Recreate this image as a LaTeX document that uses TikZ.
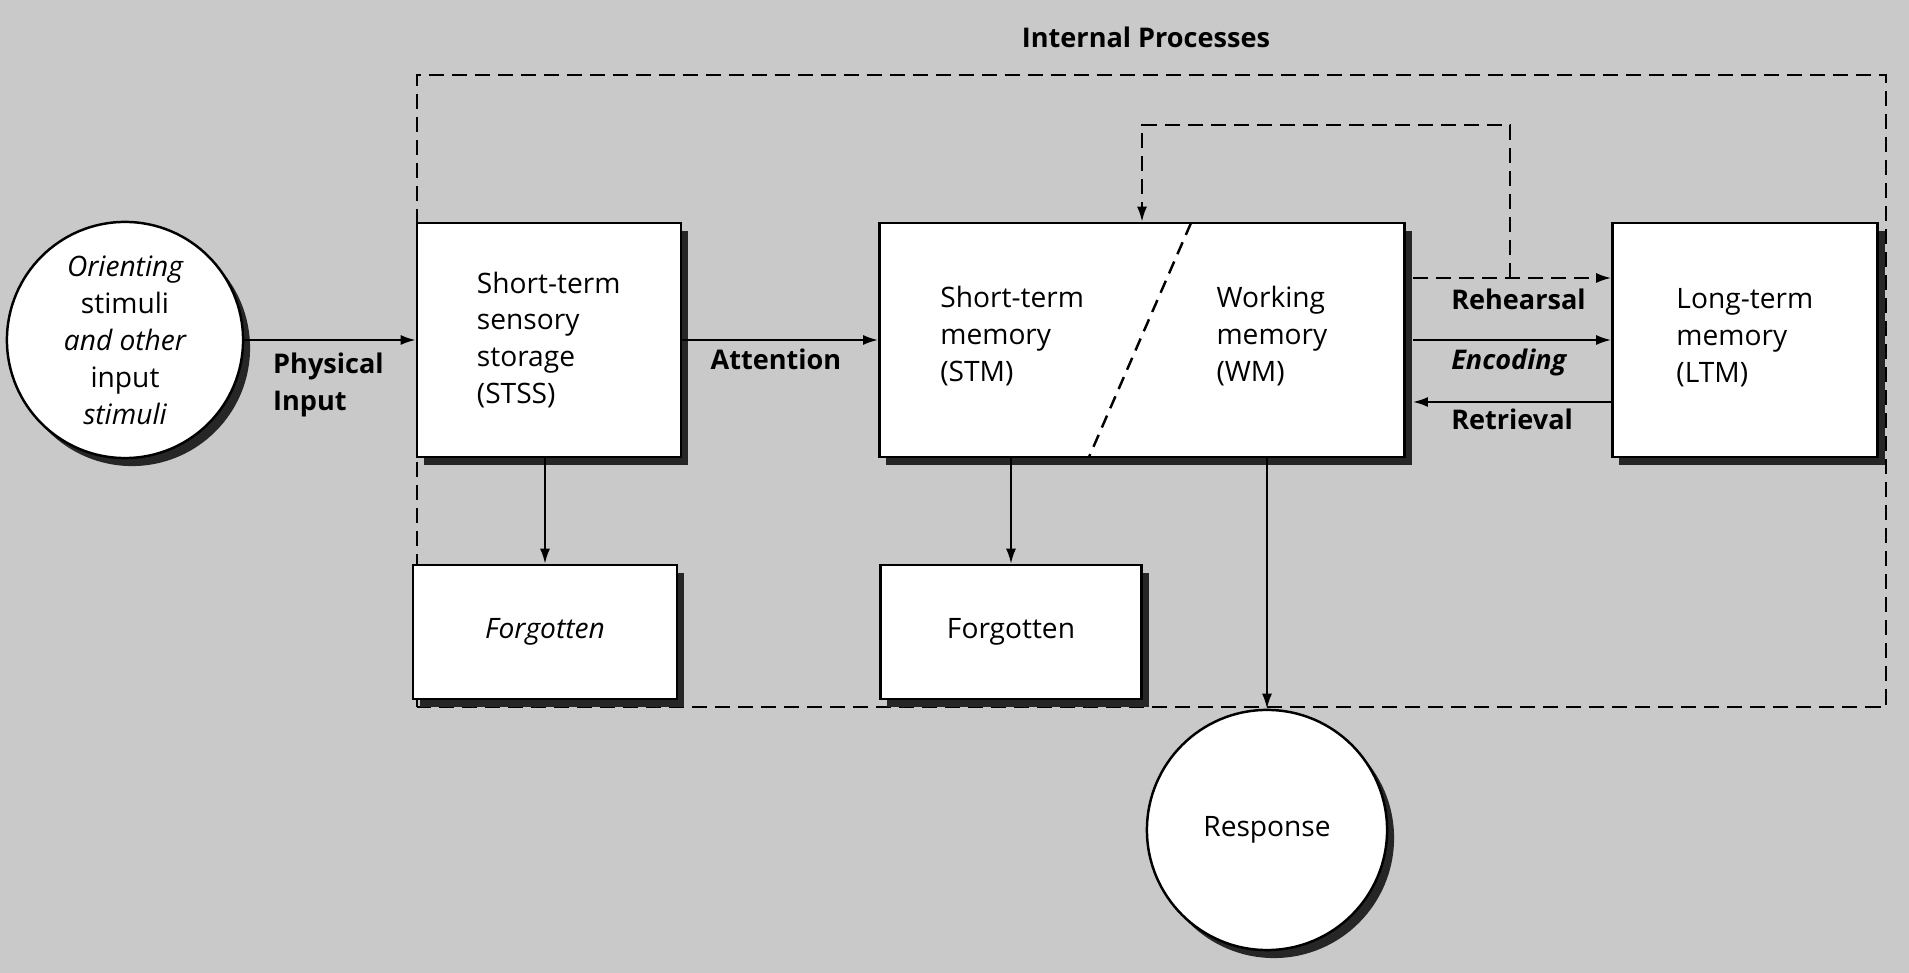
\documentclass[tikz,border=0pt]{standalone}
\usepackage{fontspec}
\setmainfont{Open Sans}
\usetikzlibrary{positioning,shadows,arrows.meta}

\begin{document}
\begin{tikzpicture}[x=0.01cm,y=0.01cm,line width=0.7pt,
	font=\fontsize{8}{10.5}\selectfont,
	dropsh/.style={drop shadow={shadow xshift=0.07cm,shadow yshift=-0.08cm,fill=black!85,opacity=1}},
	box/.style={draw,fill=white,dropsh,minimum height=2.34cm},
	roundbox/.style={circle,draw,fill=white,dropsh,inner sep=0pt,align=center},
	txt/.style={inner sep=0pt,align=left},
	lbl/.style={inner sep=0pt,font=\fontsize{7.7}{10.5}\selectfont\bfseries},
	flow/.style={-{Latex[length=0.15cm,width=0.1cm]},line width=0.6pt},
	dashflow/.style={flow,dash pattern=on 0.15cm off 0.08cm}]
	\fill[black!21] (0,0) rectangle (1909,973);
	\draw[dash pattern=on 0.15cm off 0.08cm] (417,266) rectangle (1886,898);
	\node[lbl,anchor=base] (intproc) at (1146,925) {Internal Processes};
	\node[roundbox,minimum size=2.36cm] (orient) at (125,633) {{\itshape Orienting}\\stimuli\\{\itshape and other}\\input\\{\itshape stimuli}};
	\node[box,minimum width=2.64cm] (stss) at (549,633) {};
	\node[txt,right=0.6cm of stss.west] (stsstxt) {Short-term\\sensory\\storage\\(STSS)};
	\node[box,minimum width=5.25cm] (stmwm) at (1142,633) {};
	\draw[dash pattern=on 0.13cm off 0.08cm] (1191,750) -- (1089,516);
	\node[txt,right=0.61cm of stmwm.west,yshift=0.04cm] (stm) {Short-term\\memory\\(STM)};
	\node[txt,right=3.37cm of stmwm.west,yshift=0.04cm] (wm) {Working\\memory\\(WM)};
	\node[box,minimum width=2.65cm] (ltm) at (1745,633) {};
	\node[txt,right=0.64cm of ltm.west,yshift=0.02cm] (ltmtxt) {Long-term\\memory\\(LTM)};
	\node[box,minimum width=2.64cm,minimum height=1.34cm] (forg1) at (545,341) {\itshape Forgotten};
	\node[box,minimum width=2.61cm,minimum height=1.34cm] (forg2) at (1011,341) {Forgotten};
	\node[roundbox,minimum size=2.4cm] (resp) at (1267,143) {Response};
	\coordinate (reh) at (1510,695);
	\coordinate (loop top) at (1510,848);
	\coordinate (ret) at (1510,571);
	\draw[flow] (orient) -- (stss);
	\draw[flow] (stss) -- (stmwm);
	\draw[flow,shorten <=0.07cm] (stmwm) -- (ltm);
	\draw[flow,shorten >=0.07cm] (ltm.west |- ret) -- (stmwm.east |- ret);
	\draw[dashflow,shorten <=0.07cm] (stmwm.east |- reh) -- (ltm.west |- reh);
	\draw[dashflow] (reh) -- (loop top) -| (stmwm.north);
	\draw[flow] (stss.south -| forg1.north) -- (forg1.north);
	\draw[flow] (stmwm.south -| forg2.north) -- (forg2.north);
	\draw[flow] (stmwm.south -| resp.north) -- (resp.north);
	\node[lbl,anchor=north west,align=left] (physin) at (272,621) {Physical\\Input};
	\node[lbl,anchor=base] (attn) at (776,603) {Attention};
	\node[lbl,anchor=base west] (rehtxt) at (1450,663) {Rehearsal};
	\node[lbl,anchor=base west] (enc) at (1450,603) {\itshape Encoding};
	\node[lbl,anchor=base west] (rettxt) at (1450,543) {Retrieval};
\end{tikzpicture}
\end{document}
